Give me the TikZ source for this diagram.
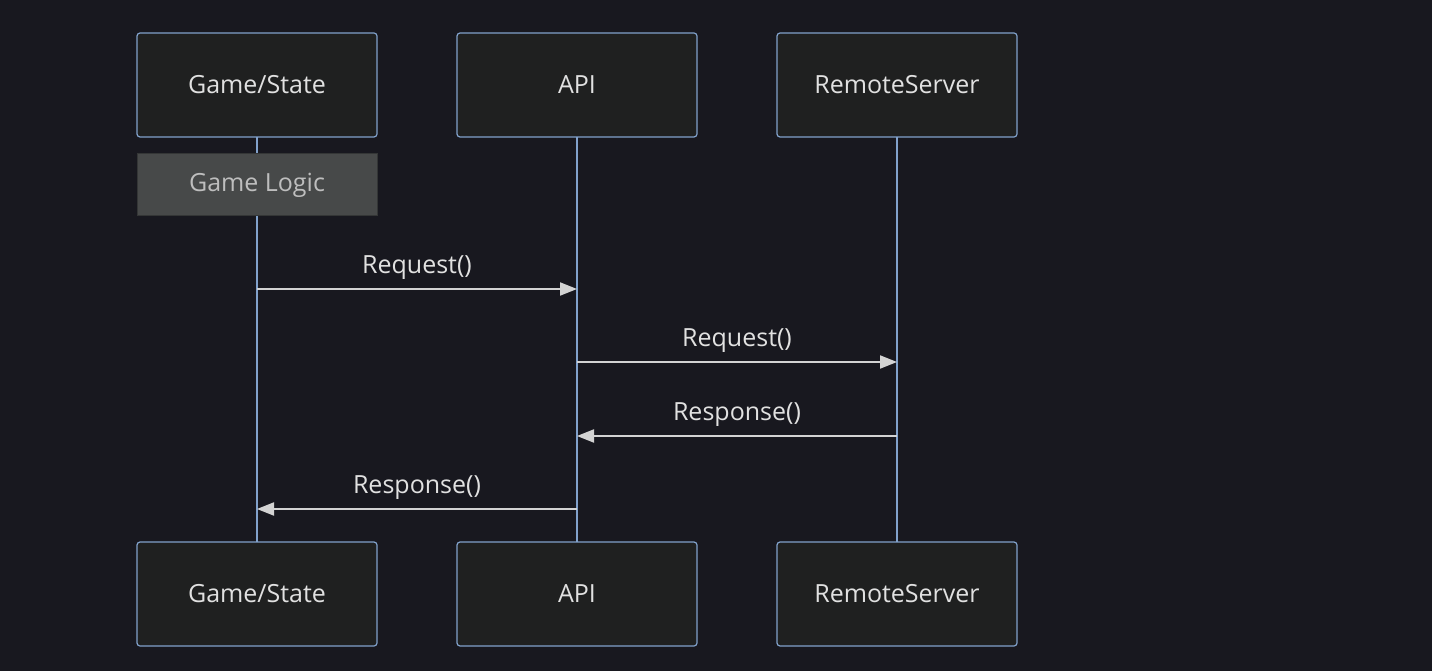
\documentclass[tikz,border=0pt]{standalone}
\usepackage{fontspec}
\setmainfont{Open Sans}
\usetikzlibrary{arrows.meta}
\definecolor{bgdark}{RGB}{24,24,31}
\definecolor{boxfill}{RGB}{31,32,32}
\definecolor{boxline}{RGB}{129,161,203}
\definecolor{notefill}{RGB}{71,73,73}
\definecolor{noteline}{RGB}{52,54,54}
\definecolor{notetext}{RGB}{190,190,190}
\definecolor{msgline}{RGB}{211,211,211}
\definecolor{msgtext}{RGB}{225,225,225}

\begin{document}
\begin{tikzpicture}[x=1pt, y=-1pt, auto,
    actor/.style ={draw=boxline, fill=boxfill, line width=1.2pt, rounded corners=3pt,
      minimum width=240pt, minimum height=104pt, text=msgtext,
      font=\fontsize{25}{29}\selectfont},
    note/.style ={draw=noteline, fill=notefill, line width=1pt,
      minimum width=240pt, minimum height=62pt, text=notetext,
      font=\fontsize{25}{29}\selectfont},
    lifeline/.style ={draw=boxline, line width=2.6pt},
    message/.style ={draw=msgline, line width=2pt, -{Triangle[length=17pt, width=13pt]}},
    label/.style ={text=msgtext, font=\fontsize{25}{29}\selectfont, inner sep=8pt}]
   \fill[bgdark] (0,0) rectangle (1432,671);
   \useasboundingbox (0,0) rectangle (1432,671);
   \coordinate (G) at (257,137);
   \coordinate (A) at (577,137);
   \coordinate (R) at (897,137);
   \coordinate (Gend) at (257,542);
   \coordinate (Aend) at (577,542);
   \coordinate (Rend) at (897,542);
   \draw[lifeline] (G) to (Gend);
   \draw[lifeline] (A) to (Aend);
   \draw[lifeline] (R) to (Rend);
   \node[actor] (GameTop) at (257,85)  {Game/State};
   \node[actor] (ApiTop) at (577,85)  {API};
   \node[actor] (RemoteTop) at (897,85)  {RemoteServer};
   \node[actor] (GameBottom) at (257,594)  {Game/State};
   \node[actor] (ApiBottom) at (577,594)  {API};
   \node[actor] (RemoteBottom) at (897,594)  {RemoteServer};
   \node[note] (logic) at (257,185)  {Game Logic};
   % messages
   \coordinate (g1) at (257,289);
   \coordinate (a1) at (577,289);
   \coordinate (a2) at (577,362);
   \coordinate (r2) at (897,362);
   \coordinate (r3) at (897,436);
   \coordinate (a3) at (577,436);
   \coordinate (a4) at (577,509);
   \coordinate (g4) at (257,509);
   \draw[message] (g1) to node[label, above] {Request()} (a1);
   \draw[message] (a2) to node[label, above] {Request()} (r2);
   \draw[message] (r3) to node[label, above] {Response()} (a3);
   \draw[message] (a4) to node[label, above] {Response()} (g4);
 \end{tikzpicture}
\end{document}
